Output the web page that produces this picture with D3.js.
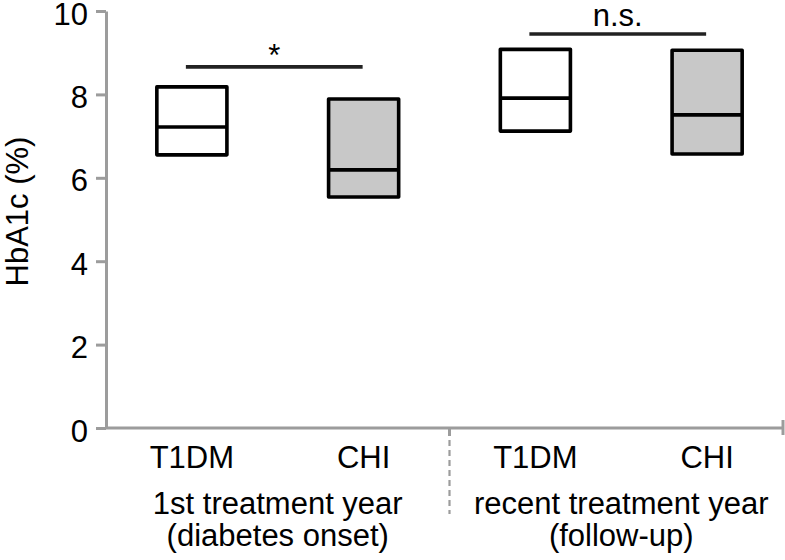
<!DOCTYPE html>
<html>
<head>
<meta charset="utf-8">
<script src="https://cdn.jsdelivr.net/npm/d3@7"></script>
<style>
  html, body { margin: 0; padding: 0; background: #fff; }
  svg { display: block; font-family: "Liberation Sans", Arial, Helvetica, sans-serif; }
</style>
</head>
<body>
<svg id="chart" width="785" height="560"></svg>
<script>
// ---- data ----
const categories = ["T1DM-1", "CHI-1", "T1DM-2", "CHI-2"];
const categoryLabels = ["T1DM", "CHI", "T1DM", "CHI"];
const groupLabels = [["1st treatment year", "(diabetes onset)"], ["recent treatment year", "(follow-up)"]];
const q1 = [6.55, 5.54, 7.12, 6.57];
const median = [7.22, 6.19, 7.91, 7.51];
const q3 = [8.18, 7.89, 9.08, 9.06];
const filled = [false, true, false, true];
const yTicks = [0, 2, 4, 6, 8, 10];
const sigLabels = ["*", "n.s."];
const sigLevels = [8.66, 9.45];
const sigPairs = [[0, 1], [2, 3]];
const yTitle = "HbA1c (%)";

// ---- layout ----
const W = 785, H = 560;
const mLeft = 106, mTop = 11, mBottom = 428, axisEnd = 783;
const fontSize = 31;
const axisColor = "#9c9c9c";

const svg = d3.select("#chart");

const y = d3.scaleLinear().domain([0, 10]).range([mBottom, mTop]);
const x = d3.scaleBand().domain(categories).range([mLeft, axisEnd + 10])
  .paddingInner(0.592).paddingOuter(0.296);
const cx = i => x(categories[i]) + x.bandwidth() / 2;

// y axis
const yAxis = svg.append("g").attr("transform", `translate(${mLeft},0)`)
  .call(d3.axisLeft(y).tickValues(yTicks).tickFormat(d3.format("d"))
    .tickSize(10).tickSizeOuter(0).tickPadding(8));
yAxis.select(".domain").attr("stroke", axisColor).attr("stroke-width", 3);
yAxis.selectAll(".tick line").attr("stroke", axisColor).attr("stroke-width", 3);
yAxis.selectAll(".tick text").attr("fill", "#000").attr("font-size", fontSize)
  .attr("font-family", "Liberation Sans, Arial, sans-serif")
  .attr("dy", "0.42em");

// x axis line
svg.append("line").attr("x1", mLeft).attr("x2", axisEnd)
  .attr("y1", y(0)).attr("y2", y(0))
  .attr("stroke", axisColor).attr("stroke-width", 3);
svg.append("line").attr("x1", axisEnd).attr("x2", axisEnd)
  .attr("y1", y(0) - 8).attr("y2", y(0) + 7)
  .attr("stroke", axisColor).attr("stroke-width", 3);

// separator
const sepX = (cx(1) + cx(2)) / 2;
svg.append("line").attr("x1", sepX).attr("x2", sepX)
  .attr("y1", y(0)).attr("y2", y(0) + 8)
  .attr("stroke", axisColor).attr("stroke-width", 3);
svg.append("line").attr("x1", sepX).attr("x2", sepX)
  .attr("y1", y(0) + 12).attr("y2", y(0) + 86)
  .attr("stroke", axisColor).attr("stroke-width", 2.2)
  .attr("stroke-dasharray", "6,4");

// boxes
const boxes = svg.append("g");
categories.forEach((c, i) => {
  boxes.append("rect")
    .attr("x", x(c)).attr("width", x.bandwidth())
    .attr("y", y(q3[i])).attr("height", y(q1[i]) - y(q3[i]))
    .attr("fill", filled[i] ? "#c8c8c8" : "#fff")
    .attr("stroke", "#000").attr("stroke-width", 3.6)
    .attr("stroke-linejoin", "round");
  boxes.append("line")
    .attr("x1", x(c)).attr("x2", x(c) + x.bandwidth())
    .attr("y1", y(median[i])).attr("y2", y(median[i]))
    .attr("stroke", "#000").attr("stroke-width", 3.6);
});

// significance bars
sigPairs.forEach((p, k) => {
  const x1 = cx(p[0]) - 6, x2 = cx(p[1]) - 1;
  svg.append("line").attr("x1", x1).attr("x2", x2)
    .attr("y1", y(sigLevels[k])).attr("y2", y(sigLevels[k]))
    .attr("stroke", "#222").attr("stroke-width", 3.6);
  svg.append("text").attr("x", (x1 + x2) / 2)
    .attr("y", y(sigLevels[k]) - (k === 0 ? 1 : 8))
    .attr("text-anchor", "middle").attr("font-size", fontSize)
    .attr("fill", "#000").text(sigLabels[k]);
});

// category labels
categories.forEach((c, i) => {
  svg.append("text").attr("x", cx(i)).attr("y", 468)
    .attr("text-anchor", "middle").attr("font-size", fontSize)
    .attr("fill", "#000").text(categoryLabels[i]);
});

// group labels
groupLabels.forEach((lines, g) => {
  const gx = (cx(2 * g) + cx(2 * g + 1)) / 2;
  lines.forEach((t, j) => {
    svg.append("text").attr("x", gx).attr("y", 514 + j * 32)
      .attr("text-anchor", "middle").attr("font-size", fontSize)
      .attr("fill", "#000").text(t);
  });
});

// y title
svg.append("text")
  .attr("transform", `translate(28,${(mTop + mBottom) / 2 - 8}) rotate(-90)`)
  .attr("text-anchor", "middle").attr("font-size", 31)
  .attr("fill", "#000").text(yTitle);
</script>
</body>
</html>
